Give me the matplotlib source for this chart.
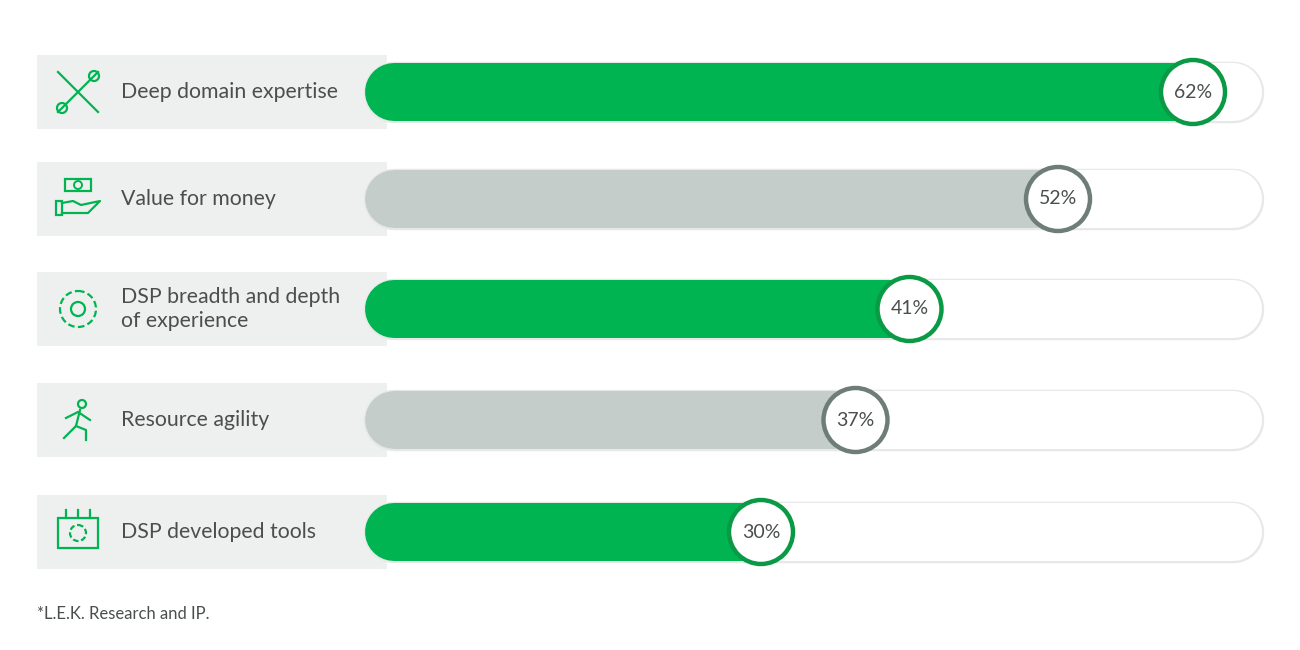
import matplotlib.pyplot as plt
from matplotlib.patches import Rectangle, Ellipse

plt.rcParams['font.family'] = ['Lato', 'DejaVu Sans']

labels = ["Deep domain expertise", "Value for money", "DSP breadth and depth\nof experience",
          "Resource agility", "DSP developed tools"]
values = [62, 52, 41, 37, 30]
highlight = [True, False, True, False, True]
note = "*L.E.K. Research and IP."

GREEN = '#00b451'
GREEN_DK = '#0a9a45'
GREY = '#c5cdcb'
GREY_DK = '#6f7d78'
BOX = '#eef0ef'
TEXT = '#4a4f4e'

PX = 13.5          # pixels per percent
X0 = 356           # pixel of 0%
fig = plt.figure(figsize=(13, 6.5), dpi=100)
ax = fig.add_axes([0, 0, 1, 1])
ax.set_xlim(-X0 / PX, (1300 - X0) / PX)
ax.set_ylim(650, 0)
ax.axis('off')

def px(x):
    return (x - X0) / PX

row_y = [92, 199, 309, 420, 532]
bar_lw = 58 * 0.72
rad = 32

for y, lab, v, hi in zip(row_y, labels, values, highlight):
    # label box
    ax.add_patch(Rectangle((px(37), y - 37), px(387) - px(37), 74, color=BOX, lw=0, zorder=1))
    ax.text(px(121), y, lab, va='center', ha='left', fontsize=15.3, color=TEXT, zorder=5,
            linespacing=1.2)
    # track
    start, end = px(365 + 29), px(1262 - 29)
    ax.plot([start, end], [y, y], color='#e6e9e8', lw=bar_lw + 2.5, solid_capstyle='round', zorder=2)
    ax.plot([start, end], [y, y], color='white', lw=bar_lw, solid_capstyle='round', zorder=2)
    # bar
    ax.plot([start, v], [y, y], color=GREEN if hi else GREY, lw=bar_lw, solid_capstyle='round', zorder=3)
    # circle marker
    ax.add_patch(Ellipse((v, y), 2 * rad / PX, 2 * rad, facecolor='white',
                         edgecolor=GREEN_DK if hi else GREY_DK, lw=3.2, zorder=4))
    ax.text(v, y, f"{v}%", ha='center', va='center', fontsize=14, color=TEXT, zorder=5)

# simple line icons
ic = dict(color=GREEN, lw=1.6, zorder=5)
cx = 78
y = row_y[0]
ax.plot([px(cx - 20), px(cx + 20)], [y - 20, y + 20], **ic)
ax.plot([px(cx + 20), px(cx - 20)], [y - 20, y + 20], **ic)
ax.add_patch(Ellipse((px(cx - 16), y + 16), 10 / PX, 10, fill=False, ec=GREEN, lw=1.6, zorder=5))
ax.add_patch(Ellipse((px(cx + 16), y - 16), 10 / PX, 10, fill=False, ec=GREEN, lw=1.6, zorder=5))
y = row_y[1]
ax.add_patch(Rectangle((px(cx - 13), y - 20), 26 / PX, 12, fill=False, ec=GREEN, lw=1.6, zorder=5))
ax.add_patch(Ellipse((px(cx), y - 14), 8 / PX, 8, fill=False, ec=GREEN, lw=1.4, zorder=5))
ax.add_patch(Rectangle((px(cx - 22), y + 2), 6 / PX, 14, fill=False, ec=GREEN, lw=1.6, zorder=5))
ax.plot([px(cx - 16), px(cx - 5), px(cx + 3), px(cx + 22), px(cx + 10), px(cx - 16)],
        [y + 4, y + 2, y + 6, y + 2, y + 14, y + 14], **ic)
y = row_y[2]
ax.add_patch(Ellipse((px(cx), y), 36 / PX, 36, fill=False, ec=GREEN, lw=1.6, ls=(0, (3, 1.5)), zorder=5))
ax.add_patch(Ellipse((px(cx), y), 14 / PX, 14, fill=False, ec=GREEN, lw=1.6, zorder=5))
y = row_y[3]
ax.add_patch(Ellipse((px(cx + 4), y - 16), 8 / PX, 8, fill=False, ec=GREEN, lw=1.6, zorder=5))
ax.plot([px(cx + 2), px(cx - 2), px(cx - 14)], [y - 10, y + 6, y + 18], **ic)
ax.plot([px(cx - 2), px(cx + 8), px(cx + 8)], [y + 6, y + 10, y + 20], **ic)
ax.plot([px(cx - 12), px(cx), px(cx + 12)], [y - 2, y - 8, y], **ic)
y = row_y[4]
ax.add_patch(Rectangle((px(cx - 20), y - 14), 40 / PX, 30, fill=False, ec=GREEN, lw=1.6, zorder=5))
ax.add_patch(Ellipse((px(cx), y + 1), 16 / PX, 16, fill=False, ec=GREEN, lw=1.6, ls=(0, (2.5, 1.2)), zorder=5))
for dx in (-12, 0, 12):
    ax.plot([px(cx + dx), px(cx + dx)], [y - 22, y - 14], **ic)

ax.text(px(37), 614, note, ha='left', va='center', fontsize=12, color=TEXT)

fig.savefig('out.png', dpi=100, facecolor='white')
